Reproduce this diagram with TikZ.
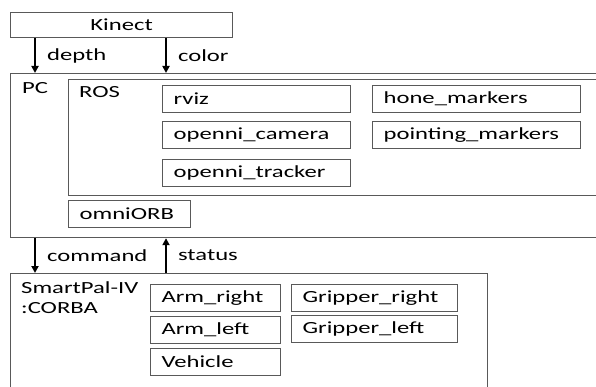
\documentclass[tikz,border=0pt]{standalone}
\usepackage{fontspec}
\setmainfont{Carlito}
\usepackage{graphicx}
\usetikzlibrary{arrows.meta}
\newcommand{\wide}[1]{\scalebox{1.45}[1]{#1}}

\begin{document}
\begin{tikzpicture}[x=1pt, y=-1pt,
  font=\fontsize{17}{20}\selectfont, text=black,
  frame/.style={draw=black!65, line width=1.2pt, anchor=north west, inner sep=0pt},
  box/.style={frame, inner xsep=11pt, align=left, text width=#1, minimum height=27pt},
  flow/.style={-{Triangle[length=7pt,width=7pt]}, line width=2.2pt, draw=black},
  lbl/.style={anchor=west, inner sep=0pt}]
   \useasboundingbox (0,0) rectangle (596,387);
   \clip (0,0) rectangle (596,387);

   % outer blocks
   \node[frame, minimum width=222pt, minimum height=25pt] (kinect) at (10,12) {\wide{Kinect}};
   \node[frame, minimum width=600pt, minimum height=164pt] (pc) at (10,73) {};
   \node[lbl] (pclabel) at (22,88) {\wide{PC}};
   \node[frame, minimum width=532pt, minimum height=116pt] (ros) at (68,79) {};
   \node[lbl] (roslabel) at (79,92) {\wide{ROS}};
   \node[frame, minimum width=477pt, minimum height=125pt] (robot) at (10,273) {};
   \node[lbl] (robotlabel) at (21,288) {\wide{SmartPal-IV}};
   \node[lbl] (corbalabel) at (21,308) {\wide{:CORBA}};

   % ROS nodes
   \node[box=166pt] (rviz) at (162,85) {\wide{rviz}};
   \node[box=166pt] (camera) at (162,121) {\wide{openni\_camera}};
   \node[box=166pt] (tracker) at (162,159) {\wide{openni\_tracker}};
   \node[box=186pt] (hone) at (372,85) {\wide{hone\_markers}};
   \node[box=186pt] (pointing) at (372,121) {\wide{pointing\_markers}};
   \node[box=100pt] (orb) at (68,200) {\wide{omniORB}};

   % robot components
   \node[box=108pt] (armright) at (150,284) {\wide{Arm\_right}};
   \node[box=108pt] (armleft) at (150,316) {\wide{Arm\_left}};
   \node[box=108pt] (vehicle) at (150,348) {\wide{Vehicle}};
   \node[box=144pt] (gripright) at (291,284) {\wide{Gripper\_right}};
   \node[box=144pt] (gripleft) at (291,315) {\wide{Gripper\_left}};

   % data flow
   \coordinate (left) at (35,0);
   \coordinate (right) at (166,0);
   \draw[flow] (kinect.south -| left) -- (pc.north -| left)
      node[lbl, midway, xshift=11pt] (depth) {\wide{depth}};
   \draw[flow] (kinect.south -| right) -- (pc.north -| right)
      node[lbl, midway, xshift=11pt] (color) {\wide{color}};
   \draw[flow] (pc.south -| left) -- (robot.north -| left)
      node[lbl, midway, xshift=11pt] (command) {\wide{command}};
   \draw[flow] (robot.north -| right) -- (pc.south -| right)
      node[lbl, midway, xshift=11pt] (status) {\wide{status}};
\end{tikzpicture}
\end{document}
